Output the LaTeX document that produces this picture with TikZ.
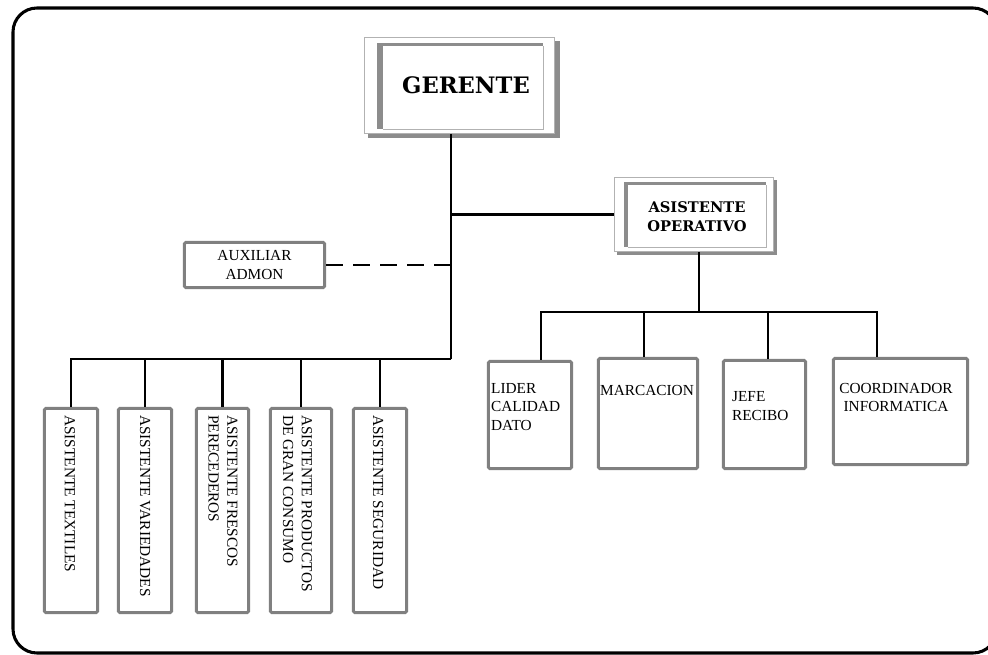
\documentclass[tikz,border=0pt]{standalone}
\usepackage{fontspec}
\setmainfont{Liberation Serif}
\newfontfamily\heavy{DejaVu Serif}
\usetikzlibrary{calc}

\begin{document}
\begin{tikzpicture}[x=0.75pt,y=-0.75pt,
  conn/.style={line width=2.1pt, black},
  orgbox/.style={draw=black!50, line width=2.2pt, rounded corners=1.2pt, inner sep=0pt},
  lbl/.style={font=\fontsize{11.5}{13.9}\selectfont, inner sep=0pt, align=left},
  vlbl/.style={lbl, rotate=-90, anchor=west},
  headbox/.style={draw=black!30, line width=0.6pt, inner sep=0pt},
  shade/.style={fill=black!45},
]
\clip (0,0) rectangle (988,655);

% outer frame
\draw[line width=2.3pt, rounded corners=18pt] (13,8) rectangle (997,653);

% bevelled frame of the manager box
\fill[shade] (368,41) rectangle (560,138);
\fill[white] (364,37) rectangle (555,134);
\fill[shade] (377,43) rectangle (543,129);
\fill[white] (383,46.5) rectangle (543,129);
\draw[black!30, line width=0.6pt] (383,129) -- (543,129) -- (543,46.5);
\node[headbox, minimum width=142.6pt, minimum height=72.1pt] (ger) at (459.5,85.5) {};
\node[font={\heavy\bfseries\fontsize{17}{21}\selectfont}, inner sep=0pt] (gerT) at (466,85) {GERENTE};

% bevelled frame of the operations assistant box
\fill[shade] (617,180) rectangle (777,255);
\fill[white] (614,177) rectangle (774,252);
\fill[shade] (624,182) rectangle (766,247);
\fill[white] (628,185) rectangle (766,247);
\draw[black!30, line width=0.6pt] (628,247) -- (766,247) -- (766,185);
\node[headbox, minimum width=119.4pt, minimum height=55.6pt] (aop) at (694,214.5) {};
\node[font={\heavy\bfseries\fontsize{11}{14.25}\selectfont}, align=center, inner sep=0pt] (aopT) at (697,216.5) {ASISTENTE\\OPERATIVO};

% administrative assistant
\node[orgbox, lbl, align=center, minimum width=105.25pt, minimum height=34pt] (aux) at (254.5,265) {AUXILIAR\\ADMON};

% lower left boxes
\node[orgbox, minimum width=40pt, minimum height=153.25pt] (tex) at (71,510.5) {};
\node[orgbox, minimum width=40pt, minimum height=153.25pt] (var) at (145,510.5) {};
\node[orgbox, minimum width=39.25pt, minimum height=153.25pt] (fre) at (222.5,510.5) {};
\node[orgbox, minimum width=46pt, minimum height=153.25pt] (pro) at (301,510.5) {};
\node[orgbox, minimum width=40pt, minimum height=153.25pt] (seg) at (380,510.5) {};

\node[vlbl] (texT) at ($(tex.north)+(-1,8)$) {ASISTENTE TEXTILES};
\node[vlbl] (varT) at ($(var.north)+(0,8)$) {ASISTENTE VARIEDADES};
\node[vlbl] (freT) at ($(fre.north)+(0.5,8)$) {ASISTENTE FRESCOS\\PERECEDEROS};
\node[vlbl] (proT) at ($(pro.north)+(-3.5,8)$) {ASISTENTE PRODUCTOS\\DE GRAN CONSUMO};
\node[vlbl] (segT) at ($(seg.north)+(-2,8)$) {ASISTENTE SEGURIDAD};

% lower right boxes
\node[orgbox, minimum width=62.5pt, minimum height=80.5pt] (lid) at (530,415) {};
\node[orgbox, minimum width=74.5pt, minimum height=82.75pt] (mar) at (648,413.5) {};
\node[orgbox, minimum width=61.75pt, minimum height=81.25pt] (jef) at (764.5,414.5) {};
\node[orgbox, minimum width=100.75pt, minimum height=79.75pt] (coo) at (900.5,411.5) {};

\node[lbl, anchor=north west] (lidT) at ($(lid.north west)+(4,23)$) {LIDER\\CALIDAD\\DATO};
\node[lbl, anchor=north west] (marT) at ($(mar.north west)+(3,28)$) {MARCACION};
\node[lbl, anchor=north west] (jefT) at ($(jef.north west)+(10,32.5)$) {JEFE\\RECIBO};
\node[lbl, anchor=north, align=center] (cooT) at ($(coo.north)+(-4.5,26)$) {COORDINADOR\\INFORMATICA};

% connectors
\coordinate (spine) at (451,359);
\coordinate (rbus) at (699,312);
\draw[conn] (ger.south -| spine) -- (spine);
\draw[conn] (spine |- aop.west) -- (aop.west);
\draw[conn, dash pattern=on 12.75pt off 7.5pt] (aux.east) -- (aux.east -| spine);

\draw[conn] (spine) -| (tex.north);
\draw[conn] (var.north) -- (var.north |- spine);
\draw[conn] (fre.north) -- (fre.north |- spine);
\draw[conn] (pro.north) -- (pro.north |- spine);
\draw[conn] (seg.north) -- (seg.north |- spine);

\path ($(lid.north)+(11,0)$) coordinate (ldrop)
      ($(mar.north)+(-4,0)$) coordinate (mdrop)
      ($(jef.north)+(3.5,0)$) coordinate (jdrop)
      ($(coo.north)+(-23.5,0)$) coordinate (cdrop);
\draw[conn] (aop.south -| rbus) -- (rbus);
\draw[conn] (ldrop) |- (rbus) -| (cdrop);
\draw[conn] (mdrop) -- (mdrop |- rbus);
\draw[conn] (jdrop) -- (jdrop |- rbus);
\end{tikzpicture}
\end{document}
